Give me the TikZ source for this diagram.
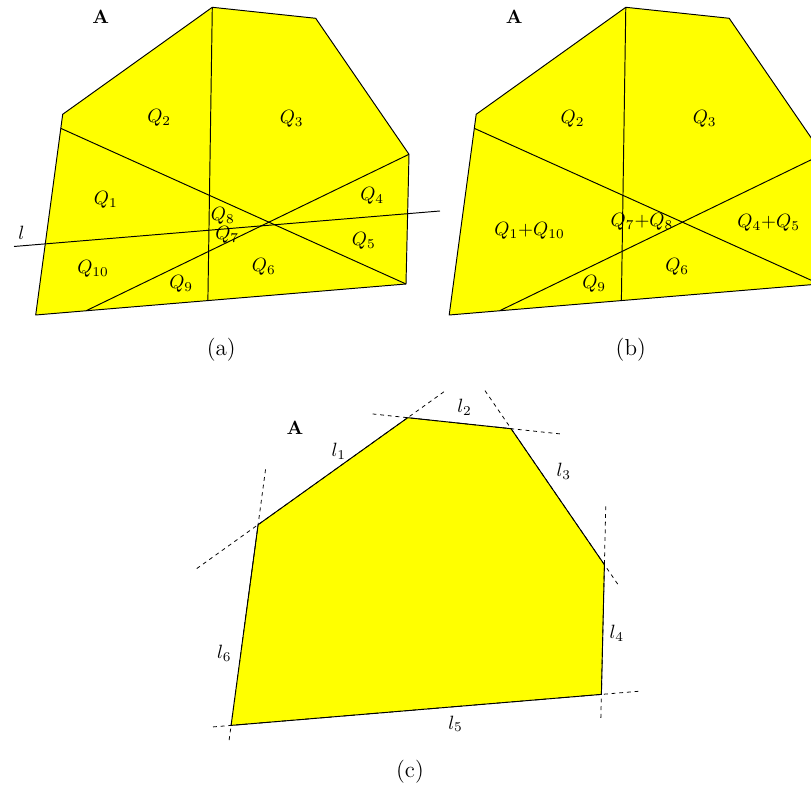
\documentclass[tikz,border=0pt]{standalone}
\usepackage{amsmath,amssymb}
\usepackage{tikz}
\usetikzlibrary{
	calc
}
\definecolor{regionyellow}{RGB}{255,255,0}

\begin{document}
\begin{tikzpicture}[
		x=0.52pt, y=-0.52pt,
		region/.style={fill=regionyellow, draw=black, line width=0.5pt, line join=round},
		cut/.style={draw=black, line width=0.5pt},
		support/.style={draw=black, line width=0.4pt, dash pattern=on 2pt off 2pt},
		qlabel/.style={inner sep=0pt},
		tag/.style={font=\bfseries, inner sep=0pt},
		caption/.style={font=\large, inner sep=0pt}
		]
		
		\useasboundingbox (0,0) rectangle (811,787);
		\clip (0,0) rectangle (811,787);
		
		% =========================
		% (a) region A, three cuts and the line l
		% =========================
		\coordinate (a1) at (62.7,114.3);
		\coordinate (a2) at (212.3,7.3);
		\coordinate (a3) at (315.7,18.3);
		\coordinate (a4) at (409,154.3);
		\coordinate (a5) at (406,284);
		\coordinate (a6) at (35.7,315);
		\coordinate (a7) at ($(a6)!0.465!(a5)$);
		\coordinate (a8) at ($(a1)!0.07!(a6)$);
		\coordinate (a9) at ($(a6)!0.136!(a5)$);
		\coordinate (lwest) at (14,246.5);
		\coordinate (least) at (440,211);
		
		\path[region] (a1) -- (a2) -- (a3) -- (a4) -- (a5) -- (a6) -- cycle;
		\draw[cut] (a2) -- (a7);
		\draw[cut] (a8) -- (a5);
		\draw[cut] (a4) -- (a9);
		\draw[cut] (lwest) -- (least);
		
		\node[tag] (tagA) at (100.8,16.7) {A};
		\node[qlabel] (qa1) at (105.8,200) {$Q_1$};
		\node[qlabel] (qa2) at (159.2,118.3) {$Q_2$};
		\node[qlabel] (qa3) at (291.7,119) {$Q_3$};
		\node[qlabel] (qa4) at (372.2,196.3) {$Q_4$};
		\node[qlabel] (qa5) at (363.8,240.7) {$Q_5$};
		\node[qlabel] (qa6) at (263.8,267.3) {$Q_6$};
		\node[qlabel] (qa7) at (227.2,234.7) {$Q_7$};
		\node[qlabel] (qa8) at (222.8,215.7) {$Q_8$};
		\node[qlabel] (qa9) at (181.2,283.7) {$Q_9$};
		\node[qlabel] (qa10) at (93,269) {$Q_{10}$};
		\node[qlabel] (lname) at (21.5,233.3) {$l$};
		\node[caption] (capa) at (221.3,350) {(a)};
		
		% =========================
		% (b) merged pieces
		% =========================
		\begin{scope}[shift={(413.5,0)}]
			\coordinate (b1) at (62.7,114.3);
			\coordinate (b2) at (212.3,7.3);
			\coordinate (b3) at (315.7,18.3);
			\coordinate (b4) at (409,154.3);
			\coordinate (b5) at (406,284);
			\coordinate (b6) at (35.7,315);
			\coordinate (b7) at ($(b6)!0.465!(b5)$);
			\coordinate (b8) at ($(b1)!0.07!(b6)$);
			\coordinate (b9) at ($(b6)!0.136!(b5)$);
			
			\path[region] (b1) -- (b2) -- (b3) -- (b4) -- (b5) -- (b6) -- cycle;
			\draw[cut] (b2) -- (b7);
			\draw[cut] (b8) -- (b5);
			\draw[cut] (b4) -- (b9);
			
			\node[tag] (tagB) at (100.8,16.7) {A};
			\node[qlabel] (qb2) at (159,118.7) {$Q_2$};
			\node[qlabel] (qb3) at (291.2,119) {$Q_3$};
			\node[qlabel] (qb110) at (116,230.7) {$Q_1{+}Q_{10}$};
			\node[qlabel] (qb78) at (228.5,222.3) {$Q_7{+}Q_8$};
			\node[qlabel] (qb45) at (355.2,222.7) {$Q_4{+}Q_5$};
			\node[qlabel] (qb6) at (263.7,267.3) {$Q_6$};
			\node[qlabel] (qb9) at (180.7,283.7) {$Q_9$};
			\node[caption] (capb) at (217.3,350) {(b)};
		\end{scope}
		
		% =========================
		% (c) supporting lines of the edges
		% =========================
		\begin{scope}[shift={(195.4,410.4)}]
			\coordinate (c1) at (62.7,114.3);
			\coordinate (c2) at (212.3,7.3);
			\coordinate (c3) at (315.7,18.3);
			\coordinate (c4) at (409,154.3);
			\coordinate (c5) at (406,284);
			\coordinate (c6) at (35.7,315);
			
			\path[region] (c1) -- (c2) -- (c3) -- (c4) -- (c5) -- (c6) -- cycle;
			
			\draw[support] ($(c1)!-0.41!(c2)$) -- ($(c2)!-0.25!(c1)$);
			\draw[support] ($(c2)!-0.34!(c3)$) -- ($(c3)!-0.48!(c2)$);
			\draw[support] ($(c3)!-0.28!(c4)$) -- ($(c4)!-0.15!(c3)$);
			\draw[support] ($(c4)!-0.45!(c5)$) -- ($(c5)!-0.2!(c4)$);
			\draw[support] ($(c5)!-0.1!(c6)$) -- ($(c6)!-0.055!(c5)$);
			\draw[support] ($(c6)!-0.073!(c1)$) -- ($(c1)!-0.29!(c6)$);
			
			\node[tag] (tagC) at (99.6,17.1) {A};
			\node[qlabel] (l1) at (143.4,40.9) {$l_1$};
			\node[qlabel] (l2) at (269.1,-3.2) {$l_2$};
			\node[qlabel] (l3) at (368.4,61.3) {$l_3$};
			\node[qlabel] (l4) at (421.3,222.9) {$l_4$};
			\node[qlabel] (l5) at (260.1,313.4) {$l_5$};
			\node[qlabel] (l6) at (28.8,242.9) {$l_6$};
			\node[caption] (capc) at (214.6,361.3) {(c)};
		\end{scope}
		
	\end{tikzpicture}
\end{document}
